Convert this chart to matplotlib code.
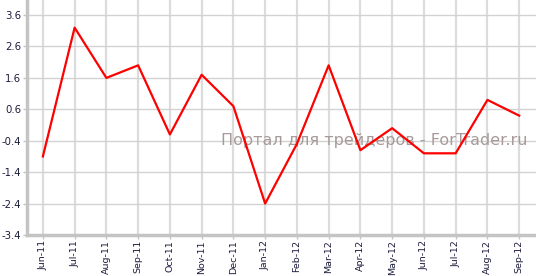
import matplotlib
matplotlib.use("Agg")
import matplotlib.pyplot as plt
import numpy as np

months = ["Jun-11", "Jul-11", "Aug-11", "Sep-11", "Oct-11", "Nov-11", "Dec-11", "Jan-12",
          "Feb-12", "Mar-12", "Apr-12", "May-12", "Jun-12", "Jul-12", "Aug-12", "Sep-12"]
values = [-0.9, 3.2, 1.6, 2.0, -0.2, 1.7, 0.7, -2.4,
          -0.5, 2.0, -0.7, 0.0, -0.8, -0.8, 0.9, 0.4]
y_ticks = [-3.4, -2.4, -1.4, -0.4, 0.6, 1.6, 2.6, 3.6]

grid_col = "#d2d2d2"
axis_col = "#c4c4c4"
text_col = "#1c1c3c"

fig = plt.figure(figsize=(5.36, 2.76), dpi=100)
ax = fig.add_axes([27 / 536, 41 / 276, 1 - 27 / 536, 1 - 41 / 276])

xs = np.arange(len(months))
ax.plot(xs, values, color="#ff0000", lw=1.6, zorder=3)

ax.set_xlim(-0.5, len(months) - 0.47)
ax.set_ylim(-3.4, 4.08)
ax.set_xticks(xs)
ax.set_xticklabels(months, rotation=90, fontsize=6.8, color=text_col)
ax.set_yticks(y_ticks)
ax.set_yticklabels([f"{t:.1f}" for t in y_ticks], fontsize=7.3, color=text_col)

ax.grid(axis="y", color=grid_col, lw=1.0)
ax.grid(axis="x", color="#dcdcdc", lw=1.6)
ax.set_axisbelow(True)
ax.tick_params(axis="both", colors=axis_col, length=3, width=1, labelcolor=text_col, pad=1.2)
ax.tick_params(axis="x", pad=0.6)

for side in ("top", "right"):
    ax.spines[side].set_visible(False)
for side in ("left", "bottom"):
    ax.spines[side].set_color(axis_col)
    ax.spines[side].set_linewidth(2.5)

ax.text(0.984, 0.4, "Портал для трейдеров - ForTrader.ru", transform=ax.transAxes,
        ha="right", va="center", fontsize=11.5, color="#a89a9a", zorder=2)

fig.savefig("out.png", dpi=100)
